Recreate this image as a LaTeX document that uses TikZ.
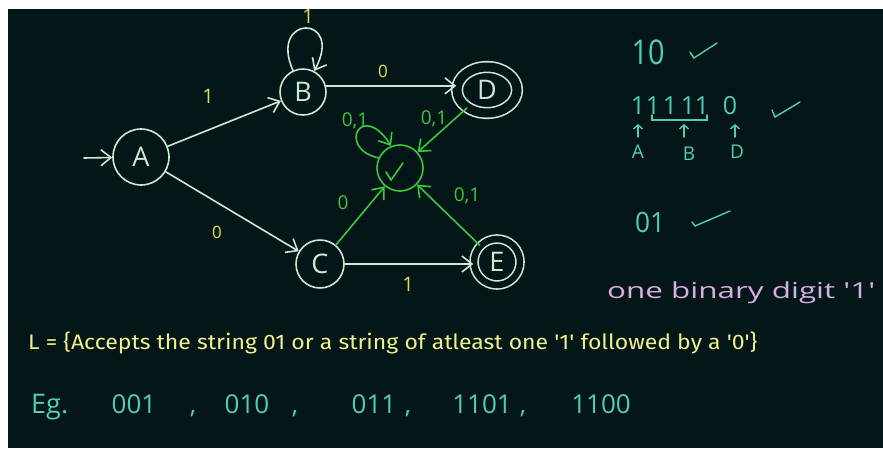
\documentclass[tikz,border=0pt]{standalone}
\usepackage{fontspec}
\usepackage{graphicx}
\setmainfont{Open Sans}
\newfontfamily\printfont{Fira Sans}
\usetikzlibrary{arrows.meta,shapes.geometric}

\definecolor{board}{RGB}{4,22,24}
\definecolor{chalk}{RGB}{200,235,215}
\definecolor{grn}{RGB}{60,200,60}
\definecolor{lblyellow}{RGB}{225,225,80}
\definecolor{ltyellow}{RGB}{240,240,140}
\definecolor{teal}{RGB}{80,205,180}
\definecolor{pink}{RGB}{215,175,228}

\newcommand{\fs}[1]{\fontsize{#1}{#1}\selectfont}
% stretch a text horizontally to a given width (pt), keeping its height
\newsavebox{\wboxbin}
\newcommand{\wbox}[2]{\sbox{\wboxbin}{#2}%
  \scalebox{\fpeval{#1/(\wd\wboxbin)}}[1]{\usebox{\wboxbin}}}

\begin{document}
\begin{tikzpicture}[x=1pt,y=-1pt,
  arr/.style={-{Straight Barb[length=10pt,width=16pt]}},
  chalkline/.style={draw=chalk, line width=1.6pt, line cap=round},
  grnline/.style={draw=grn, line width=1.6pt, line cap=round},
  tealline/.style={draw=teal, line width=1.4pt, line cap=round},
  stnode/.style={circle, draw=chalk, line width=1.6pt, minimum size=#1,
    inner sep=0pt, text=chalk, font=\fs{27}},
  acc/.style={double=board, double distance=#1},
  ylabel/.style={text=lblyellow, font=\fs{20}, inner sep=0pt},
  glabel/.style={text=grn, font=\fs{19}, inner sep=0pt},
  hand/.style={text=teal, inner sep=0pt},
]
\useasboundingbox (0,0) rectangle (883,448);
\fill[white] (0,0) rectangle (883,448);
\fill[board] (8,9) rectangle (883,448);

% states
\node[stnode=56] (A) at (141,157) {A};
\node[stnode=46] (B) at (303,92) {B};
\node[stnode=48] (C) at (320,264) {C};
\node[ellipse, draw=chalk, line width=1.6pt, acc=9pt, minimum width=60pt,
  minimum height=46pt, inner sep=0pt, text=chalk, font=\fs{27}] (D) at (487,90) {D};
\node[stnode=46, acc=6.4pt] (E) at (497,262) {E};
\node[stnode=46, draw=grn] (X) at (400,168) {};

% start arrow
\coordinate (start) at (84,158);
\draw[chalkline, arr] (start) -- (A);

% transitions
\draw[chalkline, arr] (A) -- (B);
\draw[chalkline, arr] (A) -- (C);
\draw[chalkline, arr] (B.15) -- (B.15 -| D.west);
\draw[chalkline, arr] (C.east) -- (C.east -| E.west);
\draw[chalkline, arr] (B.115) .. controls (268,14) and (345,14) .. (B.62);

\draw[grnline, arr] (D) -- (X);
\draw[grnline, arr] (C) -- (X);
\draw[grnline, arr] (E) -- (X);
\draw[grnline, arr] (X.155) .. controls (336,148) and (362,100) .. (X.112);
% tick inside the trap state
\draw[grnline] (386,172) -- (391,180) -- (403,163);

% transition labels
\node[ylabel] (lab) at (208,96) {1};
\node[ylabel, font=\fs{17}] (lac) at (217,232) {0};
\node[ylabel, font=\fs{17}] (lbd) at (383,71) {0};
\node[ylabel] (lbb) at (308,16) {1};
\node[ylabel] (lce) at (408,284) {1};
\node[glabel] (lxx) at (355,121) {0,1};
\node[glabel] (ldx) at (434,119) {0,1};
\node[glabel] (lcx) at (343,203) {0};
\node[glabel] (lex) at (467,196) {0,1};

% worked strings on the right
\node[hand, font=\fs{34}] (s10) at (648,52) {\wbox{33}{10}};
\draw[tealline] (690,52) -- (694,58) -- (717,43);

\node[hand, font=\fs{25}] (d1) at (638,106) {1};
\node[hand, font=\fs{25}] (d2) at (653,106) {1};
\node[hand, font=\fs{25}] (d3) at (670,106) {1};
\node[hand, font=\fs{25}] (d4) at (688,106) {1};
\node[hand, font=\fs{25}] (d5) at (702,106) {1};
\node[hand, font=\fs{25}] (d6) at (730,106) {0};
\draw[tealline] (652,115) -- (652,120) -- (707,120) -- (707,115);
\draw[tealline] (772,110) -- (775,117) -- (800,102);

\coordinate (u1a) at (638,137); \coordinate (u1b) at (638,124);
\coordinate (u2a) at (684,137); \coordinate (u2b) at (684,124);
\coordinate (u3a) at (735,137); \coordinate (u3b) at (735,124);
\draw[tealline, -{Straight Barb[length=4pt,width=9pt]}] (u1a) -- (u1b);
\draw[tealline, -{Straight Barb[length=4pt,width=9pt]}] (u2a) -- (u2b);
\draw[tealline, -{Straight Barb[length=4pt,width=9pt]}] (u3a) -- (u3b);
\node[hand, font=\fs{19}] (ta) at (638,152) {A};
\node[hand, font=\fs{19}] (tb) at (689,154) {B};
\node[hand, font=\fs{19}] (td) at (737,152) {D};

\node[hand, font=\fs{28}] (s01) at (650,222) {\wbox{30}{01}};
\draw[tealline] (692,222) -- (695,226) -- (730,211);

\node[text=pink, font=\fs{22}, inner sep=0pt, anchor=base west] (note) at (607,298)
  {\wbox{268}{one binary digit \textquotesingle 1\textquotesingle}};

% language description
\node[text=ltyellow, font=\printfont\fs{21}, inner sep=0pt, anchor=base west] (lang) at (28,349)
  {\wbox{729}{L = \{Accepts the string 01 or a string of atleast one
  \textquotesingle 1\textquotesingle{} followed by a \textquotesingle 0\textquotesingle\}}};

% examples
\node[hand, font=\fs{27}, anchor=base west] (eg) at (31,413) {Eg.};
\node[hand, font=\fs{26}, anchor=base] (e1) at (134,413) {001};
\node[hand, font=\fs{26}, anchor=base] (c1) at (193,413) {,};
\node[hand, font=\fs{26}, anchor=base] (e2) at (247,413) {010};
\node[hand, font=\fs{26}, anchor=base] (c2) at (295,413) {,};
\node[hand, font=\fs{26}, anchor=base] (e3) at (374,413) {011};
\node[hand, font=\fs{26}, anchor=base] (c3) at (408,413) {,};
\node[hand, font=\fs{26}, anchor=base] (e4) at (482,413) {1101};
\node[hand, font=\fs{26}, anchor=base] (c4) at (523,413) {,};
\node[hand, font=\fs{26}, anchor=base] (e5) at (601,413) {1100};
\end{tikzpicture}
\end{document}
